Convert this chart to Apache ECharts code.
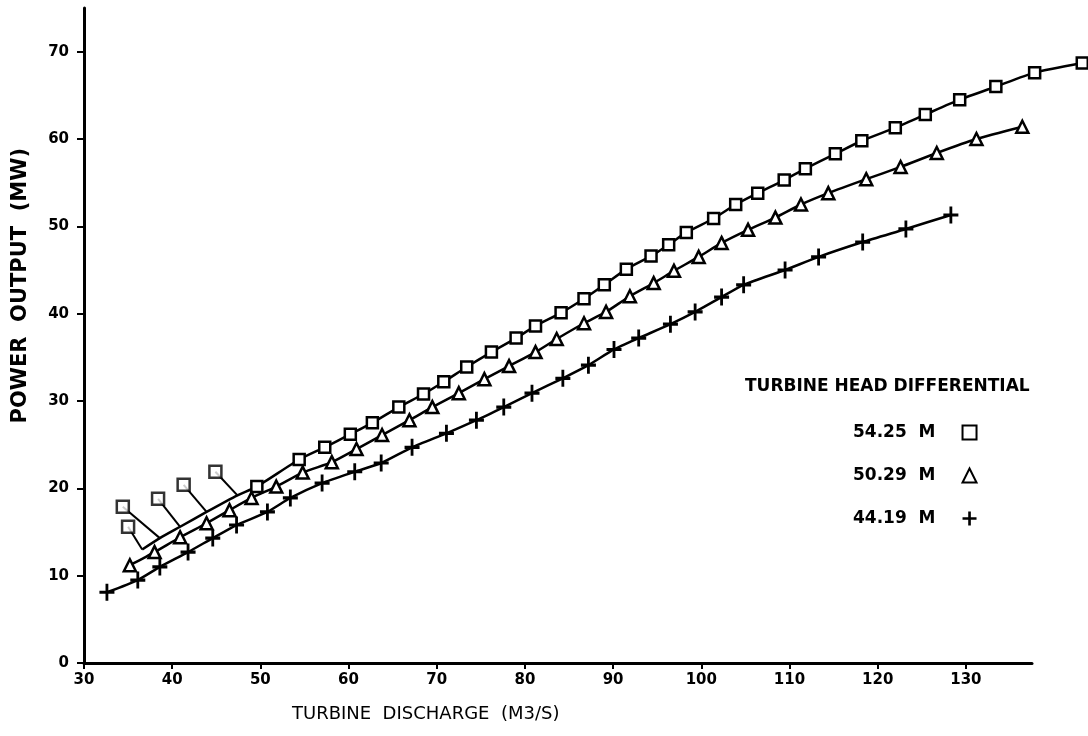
<!DOCTYPE html>
<html>
<head>
<meta charset="utf-8">
<title>Turbine power output</title>
<script src="https://cdn.jsdelivr.net/npm/echarts@6/dist/echarts.min.js"></script>
<style>
html, body { margin: 0; padding: 0; background: #fff; }
#chart { width: 1088px; height: 736px; }
</style>
</head>
<body>
<div id="chart"></div>
<script>
// tick labels
const xTicks = [30, 40, 50, 60, 70, 80, 90, 100, 110, 120, 130];
const yTicks = [0, 10, 20, 30, 40, 50, 60, 70];

// 54.25 m head (squares)
const sqX = [36.6, 38.6, 40.9, 43.9, 47.4, 49.6, 54.4, 57.3, 60.2, 62.7, 65.7, 68.5, 70.8, 73.4, 76.2, 79.0, 81.2, 84.1, 86.7, 89.0, 91.5, 94.3, 96.3, 98.3, 101.4, 103.9, 106.4, 109.4, 111.8, 115.2, 118.2, 122.0, 125.4, 129.3, 133.4, 137.8, 143.2];
const sqY = [13.0, 14.3, 15.6, 17.3, 19.2, 20.2, 23.3, 24.7, 26.2, 27.5, 29.3, 30.8, 32.2, 33.9, 35.6, 37.2, 38.6, 40.1, 41.7, 43.3, 45.1, 46.6, 47.9, 49.3, 50.9, 52.5, 53.8, 55.3, 56.6, 58.3, 59.8, 61.3, 62.8, 64.5, 66.0, 67.6, 68.7];
// first squares are drawn off the curve with a leader line
const offX = [35.0, 34.4, 38.4, 41.3, 44.9];
const offY = [15.6, 17.9, 18.8, 20.4, 21.9];

// 50.29 m head (triangles)
const triX = [35.2, 38.0, 40.9, 43.9, 46.5, 49.0, 51.8, 54.8, 58.1, 60.9, 63.8, 66.9, 69.5, 72.5, 75.4, 78.2, 81.2, 83.6, 86.7, 89.2, 91.9, 94.6, 96.9, 99.7, 102.3, 105.3, 108.4, 111.3, 114.4, 118.7, 122.6, 126.7, 131.2, 136.4];
const triY = [11.2, 12.7, 14.4, 16.0, 17.5, 18.9, 20.2, 21.8, 23.0, 24.5, 26.1, 27.8, 29.3, 30.9, 32.5, 34.0, 35.6, 37.1, 38.9, 40.2, 42.0, 43.5, 44.9, 46.5, 48.1, 49.6, 51.0, 52.5, 53.8, 55.4, 56.8, 58.4, 60.0, 61.4];

// 44.19 m head (plus)
const plusX = [32.6, 36.1, 38.6, 41.8, 44.6, 47.3, 50.8, 53.4, 57.0, 60.7, 63.7, 67.2, 71.1, 74.5, 77.6, 80.8, 84.3, 87.2, 90.1, 92.9, 96.5, 99.3, 102.3, 104.8, 109.5, 113.3, 118.3, 123.2, 128.3];
const plusY = [8.1, 9.5, 11.0, 12.7, 14.3, 15.8, 17.3, 18.9, 20.6, 21.9, 22.9, 24.7, 26.3, 27.8, 29.3, 30.9, 32.6, 34.1, 35.9, 37.2, 38.8, 40.2, 41.9, 43.3, 45.0, 46.5, 48.2, 49.7, 51.3];

const names = ['54.25  M', '50.29  M', '44.19  M'];

const plusPath = 'path://M6.5,0H9.5V6.5H16V9.5H9.5V16H6.5V9.5H0V6.5H6.5Z';
const font = 'DejaVu Sans';

// the drawn x axis stops short of the last square, so the data sit on a
// second, hidden grid with the same scale that runs to the page edge
const W = 1088, gl = 84, gr = 56, gTop = 8, gBottom = 73;
const xMin = 30, xMax = 137.5;
const pxPerUnit = (W - gl - gr) / (xMax - xMin);
const xMaxWide = xMin + (W - gl - 2) / pxPerUnit;

const zip = (xs, ys) => xs.map((x, i) => [x, ys[i]]);

const sqData = sqX.map((x, i) => i < offX.length
  ? { value: [x, sqY[i]], symbol: 'none' }
  : [x, sqY[i]]);
const leaders = offX.map((x, i) => ({ coords: [[x, offY[i]], [sqX[i], sqY[i]]] }));

const chart = echarts.init(document.getElementById('chart'));

const tickLabel = { color: '#000', fontFamily: font, fontWeight: 'bold', fontSize: 15 };

const option = {
  backgroundColor: '#fff',
  animation: false,
  grid: [
    { left: gl, right: gr, top: gTop, bottom: gBottom },
    { left: gl, right: 2, top: gTop, bottom: gBottom }
  ],
  xAxis: [
    {
      type: 'value',
      gridIndex: 0,
      min: xMin,
      max: xMax,
      axisLine: { lineStyle: { color: '#000', width: 3 } },
      axisTick: { length: 6, lineStyle: { color: '#000', width: 2 }, customValues: xTicks },
      axisLabel: Object.assign({ customValues: xTicks, margin: 10 }, tickLabel),
      splitLine: { show: false }
    },
    { type: 'value', gridIndex: 1, min: xMin, max: xMaxWide, show: false, splitLine: { show: false } }
  ],
  yAxis: [
    {
      type: 'value',
      gridIndex: 0,
      min: 0,
      max: 75,
      axisLine: { show: true, lineStyle: { color: '#000', width: 3 } },
      axisTick: { show: true, length: 7, lineStyle: { color: '#000', width: 2 }, customValues: yTicks },
      axisLabel: Object.assign({ customValues: yTicks, margin: 15 }, tickLabel),
      splitLine: { show: false }
    },
    { type: 'value', gridIndex: 1, min: 0, max: 75, show: false, splitLine: { show: false } }
  ],
  legend: {
    orient: 'vertical',
    left: 848,
    top: 419,
    align: 'right',
    itemGap: 26,
    itemWidth: 14,
    itemHeight: 14,
    textStyle: { color: '#000', fontFamily: font, fontWeight: 'bold', fontSize: 17, padding: [0, 22, 0, 0] },
    data: [
      { name: names[0], icon: 'rect' },
      { name: names[1], icon: 'triangle' },
      { name: names[2], icon: plusPath }
    ]
  },
  graphic: [
    { type: 'text', left: 745, top: 378, style: { text: 'TURBINE HEAD DIFFERENTIAL', fill: '#000', font: 'bold 17px "DejaVu Sans"' } },
    { type: 'text', left: 292, top: 705, style: { text: 'TURBINE  DISCHARGE  (M3/S)', fill: '#000', font: '18px "DejaVu Sans"' } },
    { type: 'text', left: 10, top: 148, rotation: Math.PI / 2, style: { text: 'POWER  OUTPUT  (MW)', fill: '#000', font: 'bold 21px "DejaVu Sans"' } }
  ],
  series: [
    {
      name: 'leaders',
      type: 'lines',
      coordinateSystem: 'cartesian2d',
      xAxisIndex: 1,
      yAxisIndex: 1,
      data: leaders,
      lineStyle: { color: '#000', width: 2, opacity: 1 },
      silent: true,
      z: 1
    },
    {
      name: names[0],
      type: 'line',
      xAxisIndex: 1,
      yAxisIndex: 1,
      data: sqData,
      smooth: 0.2,
      clip: false,
      symbol: 'rect',
      symbolSize: 11,
      lineStyle: { color: '#000', width: 2.5 },
      itemStyle: { color: '#fff', borderColor: '#000', borderWidth: 2.5 },
      z: 3
    },
    {
      name: 'offset squares',
      type: 'scatter',
      xAxisIndex: 1,
      yAxisIndex: 1,
      data: zip(offX, offY),
      symbol: 'rect',
      symbolSize: 12,
      itemStyle: { color: '#fff', borderColor: '#000', borderWidth: 2.5 },
      z: 4
    },
    {
      name: names[1],
      type: 'line',
      xAxisIndex: 1,
      yAxisIndex: 1,
      data: zip(triX, triY),
      smooth: 0.2,
      symbol: 'triangle',
      symbolSize: 12,
      lineStyle: { color: '#000', width: 2.5 },
      itemStyle: { color: '#fff', borderColor: '#000', borderWidth: 2.5 },
      z: 3
    },
    {
      name: names[2],
      type: 'line',
      xAxisIndex: 1,
      yAxisIndex: 1,
      data: zip(plusX, plusY),
      smooth: 0.2,
      symbol: plusPath,
      symbolSize: [15, 17],
      lineStyle: { color: '#000', width: 2.5 },
      itemStyle: { color: '#000' },
      z: 3
    }
  ]
};

chart.setOption(option);
</script>
</body>
</html>
